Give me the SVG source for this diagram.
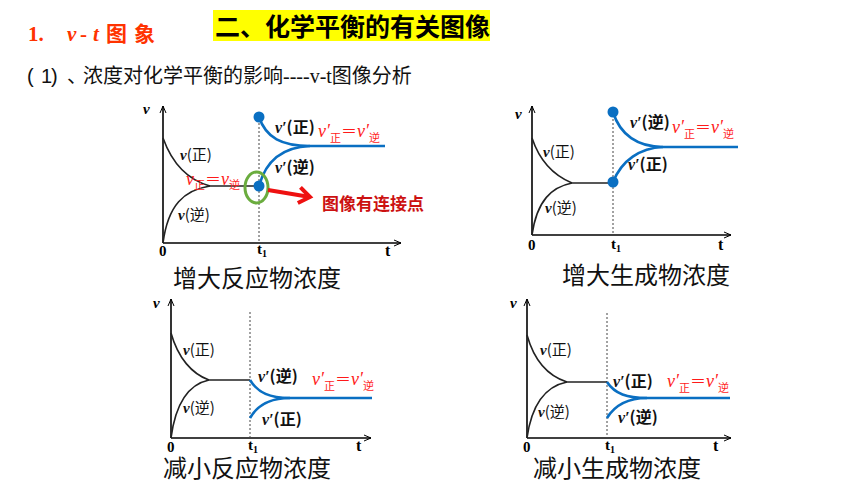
<svg xmlns="http://www.w3.org/2000/svg" width="860" height="484" viewBox="0 0 860 484">
<defs>
<marker id="ax" markerWidth="8" markerHeight="8" refX="7" refY="4" orient="auto" markerUnits="userSpaceOnUse">
<path d="M0,1 L7,4 L0,7" fill="none" stroke="#000" stroke-width="1"/>
</marker>
<marker id="redhead" markerWidth="20" markerHeight="20" refX="14" refY="10" orient="auto" markerUnits="userSpaceOnUse">
<path d="M3,2 L14,10 L3,18" fill="none" stroke="#ee1111" stroke-width="4" stroke-linejoin="miter"/>
</marker>
</defs>
<style>
.axis{stroke:#000;stroke-width:1.6;fill:none}
.dash{stroke:#444;stroke-width:1;stroke-dasharray:2,2;fill:none}
.blk{stroke:#222;stroke-width:1.6;fill:none}
.blu{stroke:#0a6fc2;stroke-width:2.6;fill:none}
.dot{fill:#0a6fc2}
.ser{font-family:"Liberation Serif","DejaVu Serif",serif;font-weight:bold;fill:#000}
.lab{font-family:"Noto Sans CJK SC",sans-serif;font-size:15px;fill:#111}
.labb{font-family:"Noto Sans CJK SC",sans-serif;font-size:16px;font-weight:bold;fill:#111}
.vi{font-family:"Liberation Serif","DejaVu Serif",serif;font-style:italic;font-weight:bold}
.red{font-family:"Noto Sans CJK SC",sans-serif;font-size:16px;fill:#ff1a1a}
.rv{font-family:"Liberation Serif","DejaVu Serif",serif;font-style:italic;font-size:18px}
.sub{font-size:11px}
.cap{font-family:"Noto Sans CJK SC",sans-serif;font-size:24px;fill:#111}
</style>

<g id="title">
<text x="28" y="41" fill="#ff3300" font-size="21" font-weight="bold" font-family="Liberation Serif,serif">1.</text>
<text x="67" y="41" fill="#ff3300" font-size="21" font-weight="bold" font-style="italic" font-family="Liberation Serif,serif">v</text>
<text x="80" y="41" fill="#ff3300" font-size="21" font-weight="bold" font-family="Liberation Serif,serif">-</text>
<text x="93" y="41" fill="#ff3300" font-size="21" font-weight="bold" font-style="italic" font-family="Liberation Serif,serif">t</text>
<text x="106" y="41" fill="#ff3300" font-size="21" font-weight="bold" font-family="Noto Sans CJK SC,sans-serif">图</text>
<text x="134" y="41" fill="#ff3300" font-size="21" font-weight="bold" font-family="Noto Sans CJK SC,sans-serif">象</text>
</g>
<g id="heading">
<rect x="213" y="10" width="277" height="31" fill="#ffff00"/>
<text x="215" y="36" font-size="25" font-weight="bold" font-family="Noto Sans CJK SC,sans-serif" fill="#000">二、化学平衡的有关图像</text>
</g>
<g id="subtitle">
<text y="83" font-size="20" font-family="Noto Sans CJK SC,sans-serif" fill="#111"><tspan x="27" font-family="Liberation Sans,sans-serif">(</tspan><tspan x="41" font-family="Liberation Sans,sans-serif">1</tspan><tspan x="51" font-family="Liberation Sans,sans-serif">)</tspan><tspan x="67">、</tspan><tspan x="83">浓度对化学平衡的影响</tspan><tspan font-family="Liberation Serif,serif">----v-t</tspan>图像分析</text>
</g>

<!-- Graph 1 -->
<g id="graph1">
<path class="axis" d="M163,243 V106" marker-end="url(#ax)"/>
<path class="axis" d="M163,243 H401" marker-end="url(#ax)"/>
<path class="dash" d="M259,115 V243"/>
<path class="blk" d="M163,138 C172,163 188,180 210,186"/>
<path class="blk" d="M163,243 C168,205 184,190 210,186 H259"/>
<path class="blu" d="M259,117 C266,138 282,146 310,146 H385"/>
<path class="blu" d="M259,186 C266,160 284,147 310,146"/>
<circle class="dot" cx="259" cy="117" r="5.5"/>
<circle class="dot" cx="259" cy="186" r="5.5"/>
<ellipse cx="256.5" cy="187.5" rx="11.5" ry="15.5" fill="none" stroke="#6aac3e" stroke-width="3"/>
<text class="ser" x="143" y="114" font-size="15" font-style="italic">v</text>
<text class="ser" x="159" y="256" font-size="15">0</text>
<text class="ser" x="385" y="256" font-size="16">t</text>
<text class="ser" x="257" y="254" font-size="15">t<tspan font-size="10" dy="3">1</tspan></text>
<text class="lab" x="180" y="160"><tspan class="vi">v</tspan>(正)</text>
<text class="lab" x="178" y="220"><tspan class="vi">v</tspan>(逆)</text>
<text class="red" x="186" y="185"><tspan class="rv">v</tspan><tspan class="sub" dy="4">正</tspan><tspan dy="-4">＝</tspan><tspan class="rv">v</tspan><tspan class="sub" dy="4">逆</tspan></text>
<text class="labb" x="275" y="133"><tspan class="vi">v′</tspan>(正)</text>
<text class="labb" x="275" y="173"><tspan class="vi">v′</tspan>(逆)</text>
<text class="red" x="318" y="137"><tspan class="rv">v′</tspan><tspan class="sub" dy="5">正</tspan><tspan dy="-5">＝</tspan><tspan class="rv">v′</tspan><tspan class="sub" dy="5">逆</tspan></text>
<path d="M268,190 L310,197" stroke="#ee1111" stroke-width="4" fill="none" marker-end="url(#redhead)"/>
<text x="322" y="210" font-size="17" font-weight="bold" font-family="Noto Sans CJK SC,sans-serif" fill="#cc1111">图像有连接点</text>
<text class="cap" x="173" y="287">增大反应物浓度</text>
</g>

<!-- Graph 2 -->
<g id="graph2">
<path class="axis" d="M532,235 V106" marker-end="url(#ax)"/>
<path class="axis" d="M532,235 H731" marker-end="url(#ax)"/>
<path class="dash" d="M613,115 V235"/>
<path class="blk" d="M532,138 C540,162 555,176 572,183"/>
<path class="blk" d="M532,235 C537,200 552,187 572,183 H613"/>
<path class="blu" d="M613,112 C620,135 638,147 663,147 H738"/>
<path class="blu" d="M613,182 C622,160 640,148 663,147"/>
<circle class="dot" cx="613" cy="112" r="5.5"/>
<circle class="dot" cx="613" cy="182" r="5.5"/>
<text class="ser" x="515" y="119" font-size="15" font-style="italic">v</text>
<text class="ser" x="528" y="250" font-size="15">0</text>
<text class="ser" x="718" y="250" font-size="16">t</text>
<text class="ser" x="611" y="249" font-size="15">t<tspan font-size="10" dy="3">1</tspan></text>
<text class="lab" x="543" y="157"><tspan class="vi">v</tspan>(正)</text>
<text class="lab" x="545" y="213"><tspan class="vi">v</tspan>(逆)</text>
<text class="labb" x="630" y="128"><tspan class="vi">v′</tspan>(逆)</text>
<text class="labb" x="628" y="170"><tspan class="vi">v′</tspan>(正)</text>
<text class="red" x="672" y="133"><tspan class="rv">v′</tspan><tspan class="sub" dy="5">正</tspan><tspan dy="-5">＝</tspan><tspan class="rv">v′</tspan><tspan class="sub" dy="5">逆</tspan></text>
<text class="cap" x="562" y="284">增大生成物浓度</text>
</g>

<!-- Graph 3 -->
<g id="graph3">
<path class="axis" d="M171,438 V299" marker-end="url(#ax)"/>
<path class="axis" d="M171,438 H371" marker-end="url(#ax)"/>
<path class="dash" d="M250,312 V438"/>
<path class="blk" d="M171,333 C178,358 192,374 209,380"/>
<path class="blk" d="M171,438 C176,400 190,384 209,380 H250"/>
<path class="blu" d="M250,380 C258,393 270,398 290,398 H372"/>
<path class="blu" d="M250,418 C258,404 272,398 290,398"/>
<text class="ser" x="153" y="308" font-size="15" font-style="italic">v</text>
<text class="ser" x="167" y="452" font-size="15">0</text>
<text class="ser" x="356" y="451" font-size="16">t</text>
<text class="ser" x="248" y="450" font-size="15">t<tspan font-size="10" dy="3">1</tspan></text>
<text class="lab" x="183" y="355"><tspan class="vi">v</tspan>(正)</text>
<text class="lab" x="183" y="413"><tspan class="vi">v</tspan>(逆)</text>
<text class="labb" x="258" y="382"><tspan class="vi">v′</tspan>(逆)</text>
<text class="labb" x="262" y="425"><tspan class="vi">v′</tspan>(正)</text>
<text class="red" x="312" y="385"><tspan class="rv">v′</tspan><tspan class="sub" dy="5">正</tspan><tspan dy="-5">＝</tspan><tspan class="rv">v′</tspan><tspan class="sub" dy="5">逆</tspan></text>
<text class="cap" x="163" y="477">减小反应物浓度</text>
</g>

<!-- Graph 4 -->
<g id="graph4">
<path class="axis" d="M527,438 V299" marker-end="url(#ax)"/>
<path class="axis" d="M527,438 H731" marker-end="url(#ax)"/>
<path class="dash" d="M607,313 V438"/>
<path class="blk" d="M527,335 C534,360 548,376 567,382"/>
<path class="blk" d="M527,438 C532,402 547,386 567,382 H607"/>
<path class="blu" d="M607,382 C615,394 627,398 647,398 H730"/>
<path class="blu" d="M607,418 C615,405 628,398 647,398"/>
<text class="ser" x="510" y="308" font-size="15" font-style="italic">v</text>
<text class="ser" x="523" y="452" font-size="15">0</text>
<text class="ser" x="713" y="451" font-size="16">t</text>
<text class="ser" x="605" y="450" font-size="15">t<tspan font-size="10" dy="3">1</tspan></text>
<text class="lab" x="540" y="355"><tspan class="vi">v</tspan>(正)</text>
<text class="lab" x="538" y="417"><tspan class="vi">v</tspan>(逆)</text>
<text class="labb" x="613" y="387"><tspan class="vi">v′</tspan>(正)</text>
<text class="labb" x="618" y="423"><tspan class="vi">v′</tspan>(逆)</text>
<text class="red" x="667" y="387"><tspan class="rv">v′</tspan><tspan class="sub" dy="5">正</tspan><tspan dy="-5">＝</tspan><tspan class="rv">v′</tspan><tspan class="sub" dy="5">逆</tspan></text>
<text class="cap" x="533" y="477">减小生成物浓度</text>
</g>
</svg>
